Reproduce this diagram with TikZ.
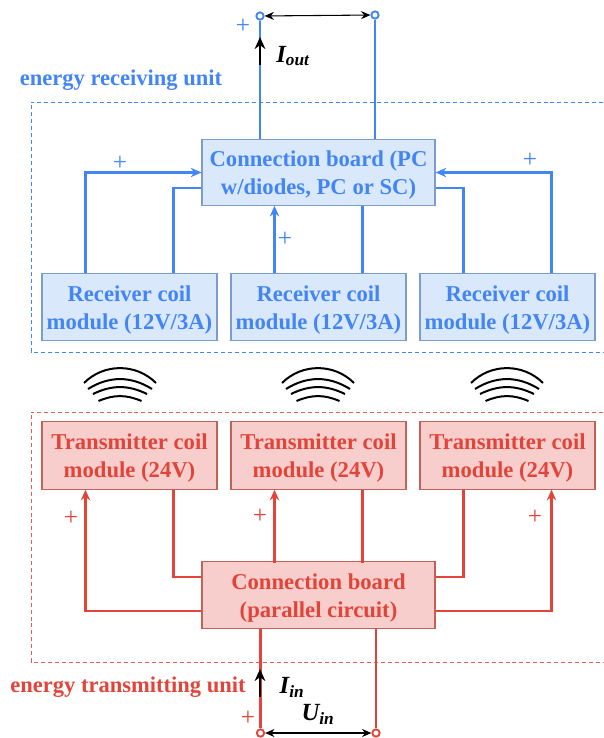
\documentclass[tikz,border=0pt]{standalone}
\usepackage{fontspec}
\setmainfont{Liberation Serif}
\usetikzlibrary{calc, positioning}
\usetikzlibrary{arrows.meta}
\definecolor{wireblue}{HTML}{4285F4}
\definecolor{wirered}{HTML}{E2443A}
\definecolor{fillblue}{HTML}{DAE8FC}
\definecolor{fillred}{HTML}{F8CECC}
\definecolor{edgeblue}{HTML}{7C9CCB}
\definecolor{edgered}{HTML}{C2605A}
\newcommand{\toprule}{\rule{0pt}{16pt}}
\tikzset{
  boxfont/.style={font=\bfseries\fontsize{17}{21}\selectfont,align=center,inner sep=0pt},
  bluebox/.style={boxfont,draw=edgeblue,fill=fillblue,text=wireblue,line width=0.8pt},
  redbox/.style={boxfont,draw=edgered,fill=fillred,text=wirered,line width=0.8pt},
  coilbox/.style={minimum width=131.25pt,minimum height=50.5pt},
  boardbox/.style={minimum width=174.75pt,minimum height=50pt},
  bluewire/.style={draw=wireblue,line width=1.7pt},
  redwire/.style={draw=wirered,line width=1.7pt},
  bluetip/.style={bluewire,-{Stealth[length=8pt,width=7pt]}},
  redtip/.style={redwire,-{Stealth[length=8pt,width=7pt]}},
  terminal/.style={circle,draw,fill=white,line width=1.4pt,minimum size=5.5pt,inner sep=0pt},
  currentarrow/.style={black,line width=1.7pt,-{Stealth[length=9pt,width=8pt]}},
  voltagearrow/.style={black,line width=0.8pt,{Stealth[length=7pt,width=6pt]}-{Stealth[length=7pt,width=6pt]}},
  plussign/.style={font=\fontsize{19}{19}\selectfont,inner sep=0pt},
  unitlabel/.style={font=\bfseries\fontsize{16.9}{18}\selectfont,inner sep=0pt},
  quantity/.style={font=\bfseries\itshape\fontsize{18.5}{19}\selectfont,inner sep=0pt},
  waves/.style={black,line width=1.5pt},
  unitframe/.style={dashed,line width=0.7pt,dash pattern=on 3pt off 2.2pt},
}
\begin{document}
\begin{tikzpicture}[x=0.75pt,y=-0.75pt]
\useasboundingbox (0,0) rectangle (603,738);
% frames of the two units
\draw[unitframe,wireblue] (603,102) -- (31,102) -- (31,352) -- (603,352);
\draw[unitframe,wirered!85!white] (603,412) -- (31,412) -- (31,662) -- (603,662);
% receiving side
\node[bluebox,boardbox] (recvboard) at (318.5,172.5) {\toprule Connection board (PC\\w/diodes, PC or SC)};
\node[bluebox,coilbox] (recvA) at (129.5,307) {\toprule Receiver coil\\module (12V/3A)};
\node[bluebox,coilbox] (recvB) at (318.5,307) {\toprule Receiver coil\\module (12V/3A)};
\node[bluebox,coilbox] (recvC) at (507.5,307) {\toprule Receiver coil\\module (12V/3A)};
\coordinate (recvboardL) at ($(recvboard.north west)!0.73!(recvboard.south west)$);
\coordinate (recvboardR) at ($(recvboard.north east)!0.73!(recvboard.south east)$);
\draw[bluetip] ($(recvA.north west)!0.25!(recvA.north east)$) |- (recvboard.west);
\draw[bluewire] ($(recvA.north west)!0.75!(recvA.north east)$) |- (recvboardL);
\draw[bluetip] ($(recvB.north west)!0.25!(recvB.north east)$) -- ++(0,-67);
\draw[bluewire] ($(recvB.north west)!0.75!(recvB.north east)$) -- ++(0,-67);
\draw[bluewire] ($(recvC.north west)!0.25!(recvC.north east)$) |- (recvboardR);
\draw[bluetip] ($(recvC.north west)!0.75!(recvC.north east)$) |- (recvboard.east);
\node[terminal,draw=wireblue] (outL) at (260,16) {};
\node[terminal,draw=wireblue] (outR) at (375,15) {};
\draw[bluewire] (outL) -- (outL |- recvboard.north);
\draw[bluewire] (outR) -- (outR |- recvboard.north);
\draw[voltagearrow] (outL) -- (outR);
\coordinate (outA) at (260,65);
\coordinate (outB) at (260,37);
\draw[currentarrow] (outA) -- (outB);
\node[plussign,text=wireblue] (plusout) at (243,26) {+};
\node[plussign,text=wireblue] (plusA) at (120,163) {+};
\node[plussign,text=wireblue] (plusB) at (285,239) {+};
\node[plussign,text=wireblue] (plusC) at (530,160) {+};
\node[quantity] (iout) at (293,56) {I\textsubscript{out}};
\node[unitlabel,text=wireblue] (recvlabel) at (121,80) {energy receiving unit};
% wireless link
\foreach \cx in {120,318,507} {
  \foreach \dx/\ylow/\bnd in {36/383/45,32/389/32,27/394/26,21.5/401/23}
    \draw[waves] (\cx-\dx,\ylow) to[bend left=\bnd] (\cx+\dx,\ylow);
}
% transmitting side
\node[redbox,coilbox] (sendA) at (129.5,455.5) {\toprule Transmitter coil\\module (24V)};
\node[redbox,coilbox] (sendB) at (318.5,455.5) {\toprule Transmitter coil\\module (24V)};
\node[redbox,coilbox] (sendC) at (507.5,455.5) {\toprule Transmitter coil\\module (24V)};
\node[redbox,boardbox] (sendboard) at (318.5,595) {\toprule Connection board\\(parallel circuit)};
\coordinate (sendboardLa) at ($(sendboard.north west)!0.23!(sendboard.south west)$);
\coordinate (sendboardLb) at ($(sendboard.north west)!0.74!(sendboard.south west)$);
\coordinate (sendboardRa) at ($(sendboard.north east)!0.23!(sendboard.south east)$);
\coordinate (sendboardRb) at ($(sendboard.north east)!0.74!(sendboard.south east)$);
\draw[redtip] (sendboardLb) -| ($(sendA.south west)!0.25!(sendA.south east)$);
\draw[redwire] (sendboardLa) -| ($(sendA.south west)!0.75!(sendA.south east)$);
\draw[redtip] ($(sendB.south west)!0.25!(sendB.south east)$) ++(0,73) -- ($(sendB.south west)!0.25!(sendB.south east)$);
\draw[redwire] ($(sendB.south west)!0.75!(sendB.south east)$) -- ++(0,73);
\draw[redwire] (sendboardRa) -| ($(sendC.south west)!0.25!(sendC.south east)$);
\draw[redtip] (sendboardRb) -| ($(sendC.south west)!0.75!(sendC.south east)$);
\node[terminal,draw=wirered] (inL) at (260.5,733) {};
\node[terminal,draw=wirered] (inR) at (376,733) {};
\draw[redwire] (inL) -- (inL |- sendboard.south);
\draw[redwire] (inR) -- (inR |- sendboard.south);
\draw[voltagearrow] (inL) -- (inR);
\coordinate (inA) at (260,697);
\coordinate (inB) at (260,669);
\draw[currentarrow] (inA) -- (inB);
\node[plussign,text=wirered] (plusD) at (71,518) {+};
\node[plussign,text=wirered] (plusE) at (260,516) {+};
\node[plussign,text=wirered] (plusF) at (535,517) {+};
\node[plussign,text=wirered] (plusin) at (248,718) {+};
\node[quantity] (iin) at (292,687) {I\textsubscript{in}};
\node[quantity] (uin) at (318,714) {U\textsubscript{in}};
\node[unitlabel,text=wirered] (sendlabel) at (128,687) {energy transmitting unit};
\end{tikzpicture}
\end{document}
